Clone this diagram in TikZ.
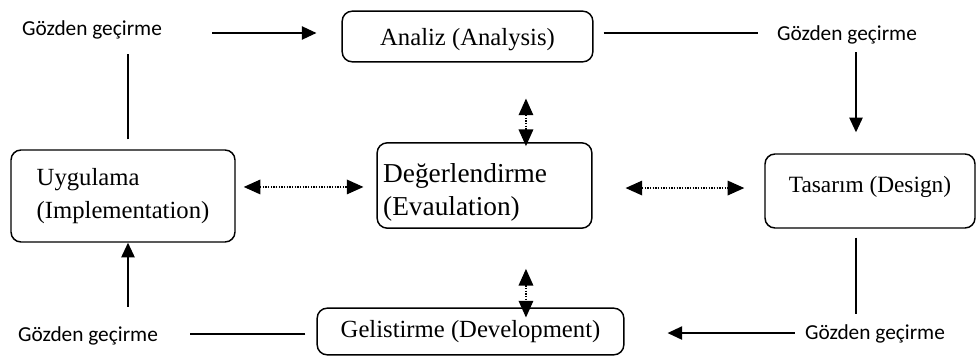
\documentclass[tikz,border=0pt]{standalone}
\usepackage{fontspec}
\setmainfont{Liberation Serif}
\setsansfont{Carlito}
\usetikzlibrary{arrows.meta,positioning,calc}
\tikzset{
  >={Triangle[length=11pt,width=10pt]},
  phase/.style={draw,rounded corners=7.5pt,line width=1.1pt,inner sep=0pt,
    font=\fontsize{18.5}{24.75}\selectfont,align=left},
  review/.style={inner sep=0pt,text height=12pt,text depth=4pt,
    font=\sffamily\fontsize{16}{19}\selectfont},
  link/.style={line width=1.2pt},
  flow/.style={link,->},
  mutual/.style={<->,line width=.9pt,dash pattern=on 1pt off 1pt,
    >={Triangle[length=12.5pt,width=11pt]}}
}
\begin{document}
\begin{tikzpicture}[x=0.75pt,y=-0.75pt]
  \useasboundingbox (0,0) rectangle (976,360);
  % phases of the cycle
  \node[phase,minimum width=188pt,minimum height=38pt,text height=17pt,text depth=3pt] (analiz) at (467.5,36.5) {Analiz (Analysis)};
  \node[phase,minimum width=168pt,minimum height=69pt] (uyg) at (123,196) {Uygulama\\(Implementation)};
  \node[phase,minimum width=161pt,minimum height=64pt,text width=152pt,
    font=\fontsize{20.5}{24.75}\selectfont] (deg) at (484.5,185.5) {\rule{0pt}{24pt}De\u{g}erlendirme\\(Evaulation)};
  \node[phase,minimum width=157.5pt,minimum height=55.5pt,text depth=10pt,
    font=\fontsize{17.5}{21}\selectfont] (tas) at (870,191) {Tasar\i m (Design)};
  \node[phase,minimum width=230pt,minimum height=35pt] (gel) at (470.5,331.5) {Gelistirme (Development)};
  % review steps
  \node[review] (rev1) at (92,30) {Gözden geçirme};
  \node[review] (rev2) at (847,35.5) {Gözden geçirme};
  \node[review] (rev3) at (88,336.5) {Gözden geçirme};
  \node[review] (rev4) at (875,334.5) {Gözden geçirme};
  % outer cycle
  \draw[flow] ([xshift=37.5pt,yshift=-2.25pt]rev1.east) -- ([xshift=-18.75pt,yshift=-2.25pt]analiz.west |- rev1.east);
  \draw[link] ([xshift=7.5pt,yshift=1.9pt]analiz.east |- rev2.west) -- ([xshift=-14.25pt,yshift=1.9pt]rev2.west);
  \draw[flow,shorten <=4.35pt,shorten >=15.75pt] ([xshift=6.75pt]rev2.south) -- ([xshift=6.75pt]rev2.south |- tas.north);
  \draw[link,shorten <=6.75pt,shorten >=7.35pt] ([xshift=-14.25pt]rev4.north |- tas.south) -- ([xshift=-14.25pt]rev4.north);
  \draw[flow,shorten <=7.5pt,shorten >=32.25pt] ([yshift=1.1pt]rev4.west) -- ([yshift=1.1pt]rev4.west -| gel.east);
  \draw[link,shorten <=8.25pt,shorten >=24pt] ([yshift=1.9pt]rev3.east -| gel.west) -- ([yshift=1.9pt]rev3.east);
  \draw[flow,shorten <=14.1pt] ([xshift=30pt]rev3.north) -- ([xshift=30pt]rev3.north |- uyg.south);
  \draw[link,shorten <=7.5pt,shorten >=10pt] ([xshift=3.75pt]uyg.north) -- ([xshift=3.75pt]uyg.north |- rev1.south);
  % evaluation links
  \draw[mutual,shorten <=6pt,shorten >=9.75pt] ([yshift=-1.1pt]deg.west -| uyg.east) -- ([yshift=-1.1pt]deg.west);
  \draw[mutual,shorten <=24.75pt,shorten >=15pt] ([yshift=-1.9pt]deg.east) -- ([yshift=-1.9pt]deg.east -| tas.west);
  \draw[mutual,shorten <=27pt,shorten >=-3pt] ([xshift=31.1pt]deg.north |- analiz.south) -- ([xshift=31.1pt]deg.north);
  \draw[mutual,shorten <=30pt,shorten >=-7.5pt] ([xshift=31.1pt]deg.south) -- ([xshift=31.1pt]deg.south |- gel.north);
\end{tikzpicture}
\end{document}
